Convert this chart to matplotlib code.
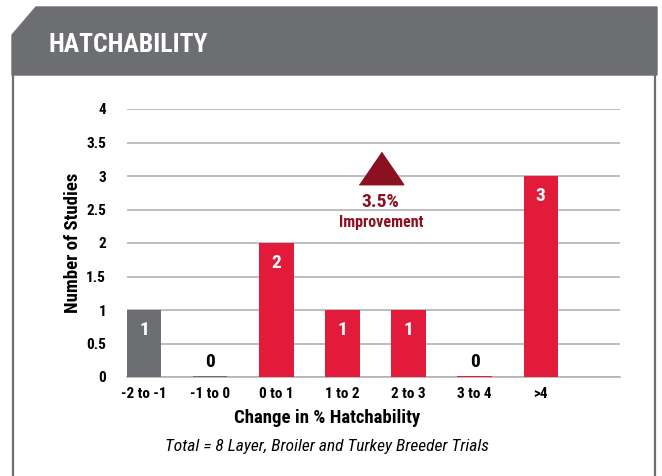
import matplotlib.pyplot as plt
from matplotlib.patches import Polygon
from matplotlib.lines import Line2D

categories = ['-2 to -1', '-1 to 0', '0 to 1', '1 to 2', '2 to 3', '3 to 4', '>4']
studies = [1, 0, 2, 1, 1, 0, 3]
yticks = [0, 0.5, 1, 1.5, 2, 2.5, 3, 3.5, 4]
ytick_labels = ['0', '0.5', '1', '1.5', '2', '2.5', '3', '3.5', '4']

red = '#E31B3B'
grey = '#6D6E71'
dark_red = '#8B1120'
colors = [grey, grey, red, red, red, red, red]

plt.rcParams['font.family'] = ['Roboto Condensed', 'DejaVu Sans']

W, H = 662, 476
fig = plt.figure(figsize=(W / 100, H / 100), dpi=100)

def fx(px):
    return px / W

def fy(py):
    return 1 - py / H

# header band with cut corner
header = Polygon([(fx(12), fy(35)), (fx(36), fy(7)), (fx(657), fy(7)),
                  (fx(657), fy(75)), (fx(12), fy(75))],
                 closed=True, transform=fig.transFigure, color=grey, zorder=0)
fig.patches.append(header)
fig.lines.append(Line2D([fx(13), fx(13)], [fy(75), 0], transform=fig.transFigure,
                        color=grey, lw=1.6))
fig.lines.append(Line2D([fx(655), fx(655)], [fy(75), 0], transform=fig.transFigure,
                        color=grey, lw=1.6))
fig.text(fx(48), fy(45), 'HATCHABILITY', color='white', fontsize=18.5,
         fontweight='bold', va='center', ha='left')

ax = fig.add_axes([fx(127), fy(377), fx(620) - fx(127), fy(109) - fy(377)])

x = list(range(len(categories)))
heights = [v if v > 0 else 0.02 for v in studies]
ax.bar(x, heights, width=0.52, color=colors, zorder=3)

for xi, v in zip(x, studies):
    if v > 0:
        ax.text(xi, v - 0.3, str(v), color='white', fontsize=14,
                fontweight='bold', ha='center', va='center', zorder=4)
    else:
        ax.text(xi, 0.22, str(v), color='black', fontsize=14,
                fontweight='bold', ha='center', va='center', zorder=4)

# improvement marker (wide triangle)
tri = [(-1, -0.73), (1, -0.73), (0, 0.73)]
ax.plot([3.58], [3.12], marker=tri, markersize=32, color=dark_red, zorder=4)
ax.text(3.58, 2.61, '3.5%', color=dark_red, fontsize=14, fontweight='bold',
        ha='center', va='center')
ax.text(3.58, 2.31, 'Improvement', color=dark_red, fontsize=11.5,
        fontweight='bold', ha='center', va='center')

ax.set_xlim(-0.26, 7.2)
ax.set_ylim(0, 4)
ax.set_yticks(yticks)
ax.set_yticklabels(ytick_labels, fontsize=11, fontweight='bold')
ax.set_xticks(x)
ax.set_xticklabels(categories, fontsize=11, fontweight='bold')
ax.tick_params(length=0, pad=7)
ax.tick_params(axis='y', pad=15)
ax.grid(axis='y', color='#B3B3B3', lw=1.2, zorder=0)
for s in ['left', 'right', 'top']:
    ax.spines[s].set_visible(False)
ax.spines['bottom'].set_color('#B3B3B3')
ax.spines['bottom'].set_linewidth(1.2)

ax.set_ylabel('Number of Studies', fontsize=13.5, fontweight='bold', labelpad=3)
fig.text(fx(327), fy(418), 'Change in % Hatchability', fontsize=13.5,
         fontweight='bold', ha='center', va='center')
fig.text(fx(327), fy(447), 'Total = 8 Layer, Broiler and Turkey Breeder Trials',
         fontsize=12.5, style='italic', ha='center', va='center')

fig.savefig('out.png', dpi=100)
